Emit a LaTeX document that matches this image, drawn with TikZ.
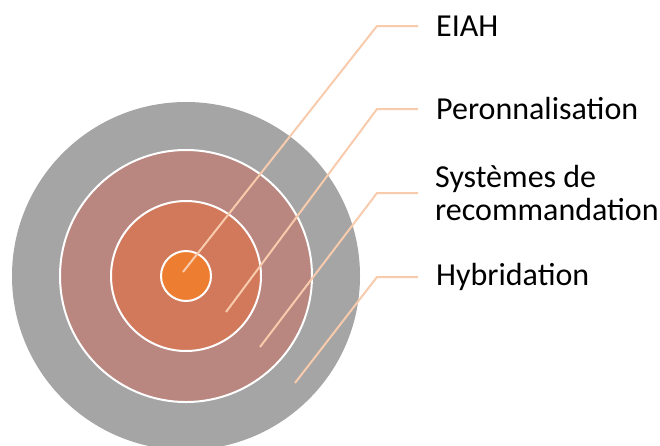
\documentclass[tikz,border=0pt]{standalone}
\usepackage{fontspec}
\setmainfont{Carlito}
\usepackage{xcolor}
\usetikzlibrary{positioning}

\definecolor{hybgray}{HTML}{A5A5A5}
\definecolor{persrose}{HTML}{B9877F}
\definecolor{recobrown}{HTML}{D1795A}
\definecolor{eiahorange}{HTML}{ED7D31}
\definecolor{leadpeach}{HTML}{F8CBAD}

\begin{document}
\begin{tikzpicture}[x=1pt, y=-1pt,
        ring/.style={draw=white, line width=2pt},
        leader/.style={leadpeach, line width=2pt},
        tag/.style={anchor=west, inner sep=0pt, align=left,
            font=\fontsize{32}{33.5}\selectfont}]
        \clip (0, 0) rectangle (660, 445);
        \useasboundingbox (0, 0) rectangle (660, 445);

        \coordinate (mid) at (186, 276);

        % rings, from outside in
        \fill[hybgray] (mid) circle (174pt);
        \draw[ring, fill=persrose] (mid) circle (126pt);
        \draw[ring, fill=recobrown] (mid) circle (75pt);
        \draw[ring, fill=eiahorange] (mid) circle (25pt);

        % leader ends and knees
        \coordinate (dotA) at (183, 272);
        \coordinate (kneeA) at (377, 26);
        \coordinate (endA) at (418, 26);
        \coordinate (dotB) at (226, 312);
        \coordinate (kneeB) at (377, 109);
        \coordinate (endB) at (418, 109);
        \coordinate (dotC) at (260, 347);
        \coordinate (kneeC) at (377, 193);
        \coordinate (endC) at (418, 193);
        \coordinate (dotD) at (295, 383);
        \coordinate (kneeD) at (377, 277);
        \coordinate (endD) at (418, 277);

        \node[tag, right=18pt of endA] (eiah) {EIAH};
        \node[tag, right=18pt of endB] (perso) {Peronnalisation};
        \node[tag, right=17pt of endC] (reco) {Systèmes de\\recommandation};
        \node[tag, right=18pt of endD] (hybrid) {Hybridation};

        \draw[leader] (dotA) -- (kneeA) -- (endA);
        \draw[leader] (dotB) -- (kneeB) -- (endB);
        \draw[leader] (dotC) -- (kneeC) -- (endC);
        \draw[leader] (dotD) -- (kneeD) -- (endD);

    \end{tikzpicture}
\end{document}
